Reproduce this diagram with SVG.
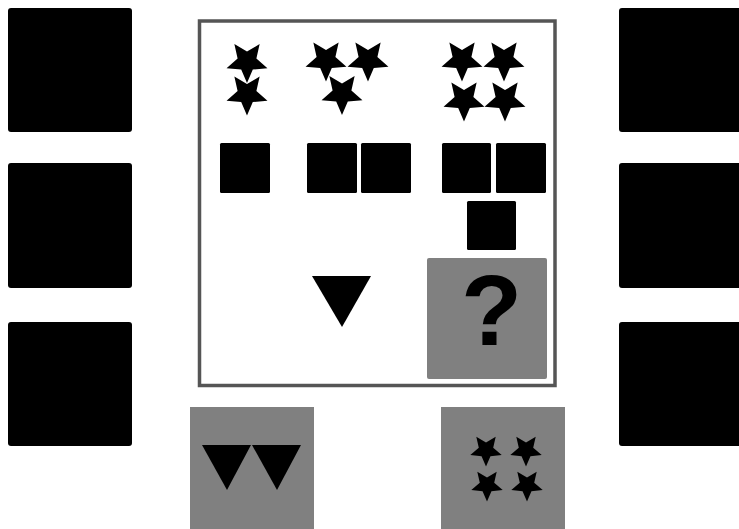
<svg xmlns="http://www.w3.org/2000/svg" xmlns:xlink="http://www.w3.org/1999/xlink" width="739" height="529" viewBox="0 0 739 529">
  <style>
    .blk { fill: #000; }
    .grey { fill: #808080; }
    .frame { fill: #fff; stroke: #555; stroke-width: 3.5; }
    .sq { fill: #000; }
    .q { font-family: "Liberation Sans", Arial, sans-serif; font-weight: bold; font-size: 100px; fill: #000; }
  </style>
  <defs>
    <path id="star" d="M0,1 L0.27,0.372 L0.951,0.309 L0.437,-0.142 L0.588,-0.809 L0,-0.46 L-0.588,-0.809 L-0.437,-0.142 L-0.951,0.309 L-0.27,0.372 Z" fill="#000"/>
  </defs>
  <rect width="739" height="529" fill="#fff"/>

  <g id="left-options">
    <rect class="blk" x="8" y="8" width="124" height="124" rx="3"/>
    <rect class="blk" x="8" y="163" width="124" height="125" rx="3"/>
    <rect class="blk" x="8" y="322" width="124" height="124" rx="3"/>
  </g>
  <g id="right-options">
    <rect class="blk" x="619" y="8" width="130" height="124" rx="3"/>
    <rect class="blk" x="619" y="163" width="130" height="125" rx="3"/>
    <rect class="blk" x="619" y="322" width="130" height="124" rx="3"/>
  </g>

  <g id="matrix">
    <rect class="frame" x="199.5" y="21" width="355.5" height="364.5"/>
  </g>

  <g id="cell-stars-1">
    <use xlink:href="#star" transform="translate(247,61.5) scale(21.5)"/>
    <use xlink:href="#star" transform="translate(247,94) scale(21.5)"/>
  </g>
  <g id="cell-stars-2">
    <use xlink:href="#star" transform="translate(326,60) scale(21.5)"/>
    <use xlink:href="#star" transform="translate(368,60) scale(21.5)"/>
    <use xlink:href="#star" transform="translate(342,93.5) scale(21.5)"/>
  </g>
  <g id="cell-stars-3">
    <use xlink:href="#star" transform="translate(462,60) scale(21.5)"/>
    <use xlink:href="#star" transform="translate(504,60) scale(21.5)"/>
    <use xlink:href="#star" transform="translate(464,100) scale(21.5)"/>
    <use xlink:href="#star" transform="translate(505,100) scale(21.5)"/>
  </g>

  <g id="cell-squares-1">
    <rect class="sq" x="220" y="143" width="50" height="50" rx="1.5"/>
  </g>
  <g id="cell-squares-2">
    <rect class="sq" x="307" y="143" width="50" height="50" rx="1.5"/>
    <rect class="sq" x="361" y="143" width="50" height="50" rx="1.5"/>
  </g>
  <g id="cell-squares-3">
    <rect class="sq" x="442" y="143" width="49" height="50" rx="1.5"/>
    <rect class="sq" x="496" y="143" width="50" height="50" rx="1.5"/>
    <rect class="sq" x="467" y="201" width="49" height="49" rx="1.5"/>
  </g>

  <g id="cell-triangle">
    <polygon points="312,276 371,276 342,327" fill="#000"/>
  </g>

  <g id="cell-question">
    <rect class="grey" x="427" y="258" width="120" height="121" rx="2"/>
    <text class="q" x="491.5" y="345" text-anchor="middle">?</text>
  </g>

  <g id="answer-triangles">
    <rect class="grey" x="190" y="407" width="124" height="130"/>
    <polygon points="202,445 251,445 227,490" fill="#000"/>
    <polygon points="252,445 301,445 277,490" fill="#000"/>
  </g>

  <g id="answer-stars">
    <rect class="grey" x="441" y="407" width="124" height="130"/>
    <use xlink:href="#star" transform="translate(486,450) scale(16.5)"/>
    <use xlink:href="#star" transform="translate(526,450) scale(16.5)"/>
    <use xlink:href="#star" transform="translate(487,485) scale(16.5)"/>
    <use xlink:href="#star" transform="translate(527,485) scale(16.5)"/>
  </g>
</svg>
